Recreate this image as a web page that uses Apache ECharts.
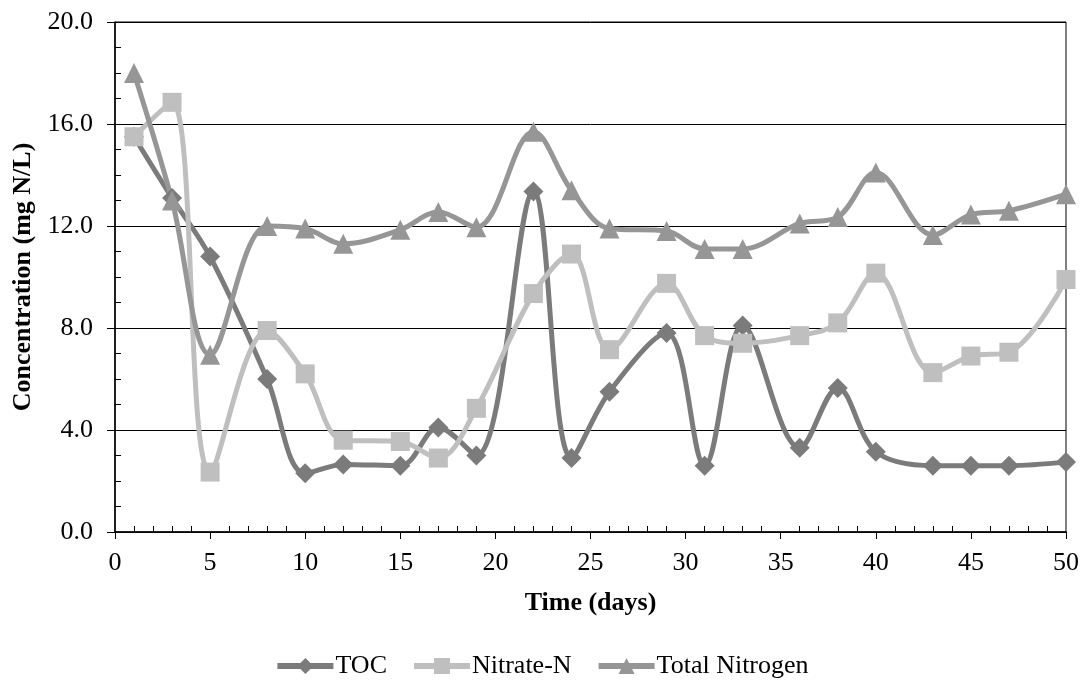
<!DOCTYPE html>
<html>
<head>
<meta charset="utf-8">
<script src="https://cdn.jsdelivr.net/npm/echarts@6/dist/echarts.min.js"></script>
<style>
  html, body { margin: 0; padding: 0; background: #fff; }
  #main { width: 1083px; height: 687px; }
</style>
</head>
<body>
<div id="main"></div>
<script>
// 数据
var days = [1, 3, 5, 8, 10, 12, 15, 17, 19, 22, 24, 26, 29, 31, 33, 36, 38, 40, 43, 45, 47, 50];
var toc = [15.5, 13.1, 10.8, 6.0, 2.3, 2.65, 2.6, 4.1, 3.0, 13.35, 2.9, 5.5, 7.8, 2.6, 8.1, 3.3, 5.65, 3.15, 2.6, 2.6, 2.6, 2.75];
var nitrate = [15.5, 16.85, 2.35, 7.9, 6.2, 3.6, 3.55, 2.9, 4.85, 9.35, 10.9, 7.15, 9.75, 7.7, 7.4, 7.7, 8.2, 10.15, 6.25, 6.9, 7.05, 9.9];
var totalN = [18.0, 13.0, 6.95, 12.0, 11.9, 11.3, 11.85, 12.55, 11.95, 15.7, 13.4, 11.9, 11.8, 11.1, 11.1, 12.1, 12.35, 14.1, 11.65, 12.45, 12.6, 13.25];
var seriesNames = ['TOC', 'Nitrate-N', 'Total Nitrogen'];

function pairs(vals) {
    return days.map(function (d, i) { return [d, vals[i]]; });
}

(function () {
    var myChart = echarts.init(document.getElementById('main'));
    var font = 'Liberation Serif';
    var option = {
        animation: false,
        textStyle: { fontFamily: font },
        grid: {
            left: 115,
            right: 17,
            top: 22,
            bottom: 155,
            show: true,
            borderColor: '#000',
            borderWidth: 1
        },
        legend: {
            bottom: 3,
            left: 'center',
            itemWidth: 56,
            itemHeight: 20,
            itemGap: 24,
            lineStyle: { width: 6 },
            textStyle: { fontFamily: font, fontSize: 26, color: '#000', padding: [0, 0, 0, -3] },
            data: seriesNames
        },
        xAxis: {
            type: 'value',
            min: 0,
            max: 50,
            interval: 5,
            name: 'Time (days)',
            nameLocation: 'middle',
            nameGap: 58,
            nameTextStyle: { fontFamily: font, fontSize: 26, fontWeight: 'bold', color: '#000' },
            axisLine: { lineStyle: { color: '#000', width: 1.5 } },
            axisTick: { length: 7, lineStyle: { color: '#000' } },
            minorTick: { show: true, splitNumber: 5, length: -6, lineStyle: { color: '#000' } },
            axisLabel: { fontFamily: font, fontSize: 26, color: '#000', margin: 18 },
            splitLine: { show: false }
        },
        yAxis: {
            type: 'value',
            min: 0,
            max: 20,
            interval: 4,
            name: 'Concentration (mg N/L)',
            nameLocation: 'middle',
            nameGap: 78,
            nameTextStyle: { fontFamily: font, fontSize: 26, fontWeight: 'bold', color: '#000' },
            axisLine: { show: true, lineStyle: { color: '#000', width: 1.5 } },
            axisTick: { show: true, length: 8, lineStyle: { color: '#000' } },
            minorTick: { show: true, splitNumber: 4, length: -6, lineStyle: { color: '#000' } },
            axisLabel: {
                fontFamily: font, fontSize: 26, color: '#000', margin: 22,
                formatter: function (v) { return v.toFixed(1); }
            },
            splitLine: { lineStyle: { color: '#000', width: 1 } }
        },
        series: [
            {
                name: seriesNames[0],
                type: 'line',
                smooth: 0.35,
                data: pairs(toc),
                symbol: 'diamond',
                symbolSize: 20,
                lineStyle: { color: '#7b7b7b', width: 5 },
                itemStyle: { color: '#7b7b7b' }
            },
            {
                name: seriesNames[1],
                type: 'line',
                smooth: 0.35,
                data: pairs(nitrate),
                symbol: 'rect',
                symbolSize: 19,
                lineStyle: { color: '#bfbfbf', width: 5 },
                itemStyle: { color: '#bfbfbf' }
            },
            {
                name: seriesNames[2],
                type: 'line',
                smooth: 0.35,
                data: pairs(totalN),
                symbol: 'triangle',
                symbolSize: 20,
                lineStyle: { color: '#969696', width: 5 },
                itemStyle: { color: '#969696' }
            }
        ]
    };
    myChart.setOption(option);
    window.addEventListener('resize', function () {
        myChart.resize();
    });
})();
</script>
</body>
</html>
